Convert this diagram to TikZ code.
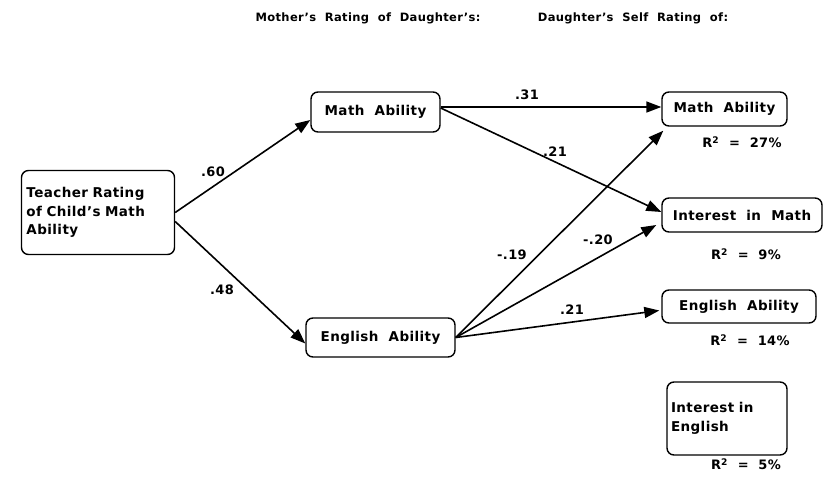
\documentclass[tikz,border=0pt]{standalone}
\usepackage{fontspec}
\setmainfont[WordSpace=2.0,LetterSpace=3]{DejaVu Sans}
\usetikzlibrary{calc,arrows.meta}
\begin{document}
\begin{tikzpicture}[x=1pt,y=-1pt,
  box/.style={draw,rounded corners=7pt,line width=1.4pt,inner sep=4pt,
    font=\bfseries\fontsize{13.5}{18.5}\selectfont},
  arr/.style={line width=1.6pt,-{Triangle[length=15pt,width=11pt]}},
  lab/.style={font=\bfseries\fontsize{13}{14}\selectfont},
  hdr/.style={font=\bfseries\fontsize{11.5}{13}\selectfont}]
\useasboundingbox (0,0) rectangle (830,479);
% headers
\node[hdr] (h1) at (368,18) {Mother's Rating of Daughter's:};
\node[hdr] (h2) at (633,18) {Daughter's Self Rating of:};
% nodes
\node[box,minimum width=153pt,minimum height=84pt,text width=143pt,align=left] (teacher) at (98,212.5)
  {Teacher Rating\\of Child's Math\\Ability};
\node[box,minimum width=129pt,minimum height=40pt] (mmath) at (375.5,112) {Math Ability};
\node[box,minimum width=149pt,minimum height=39pt] (meng) at (380.5,337.5) {English Ability};
\node[box,minimum width=125pt,minimum height=34pt] (dmath) at (724.5,109) {Math Ability};
\node[box,minimum width=160pt,minimum height=34pt] (dint) at (742,215) {Interest in Math};
\node[box,minimum width=154pt,minimum height=33pt] (deng) at (739,306.5) {English Ability};
\node[box,minimum width=120pt,minimum height=73pt,text width=112pt,align=left] (dinte) at (727,418.5)
  {Interest in\\English};
% R^2 labels
\node[lab] (r1) at (742,142) {R\textsuperscript{2} = 27\%};
\node[lab] (r2) at (746,254) {R\textsuperscript{2} = 9\%};
\node[lab] (r3) at (750,340) {R\textsuperscript{2} = 14\%};
\node[lab] (r4) at (746,464) {R\textsuperscript{2} = 5\%};
% arrows
\draw[arr] ($(teacher.east)+(0,0)$) -- ($(mmath.west)+(0,8)$);
\draw[arr] ($(teacher.east)+(0,9)$) -- ($(meng.west)+(0,6)$);
\draw[arr] ($(mmath.east)+(0,-5)$) -- ($(dmath.west)+(0,-2)$);
\draw[arr] ($(mmath.east)+(0,-4)$) -- ($(dint.west)+(0,-3)$);
\draw[arr] (meng.east) -- ($(dmath.south west)+(2,4)$);
\draw[arr] (meng.east) -- ($(dint.west)+(-5,10)$);
\draw[arr] (meng.east) -- ($(deng.west)+(-2,4)$);
% coefficients
\node[lab] (c1) at (213,172) {.60};
\node[lab] (c2) at (222,290) {.48};
\node[lab] (c3) at (527,95) {.31};
\node[lab] (c4) at (555,152) {.21};
\node[lab] (c5) at (512,255) {-.19};
\node[lab] (c6) at (598,240) {-.20};
\node[lab] (c7) at (572,310) {.21};
\end{tikzpicture}
\end{document}
